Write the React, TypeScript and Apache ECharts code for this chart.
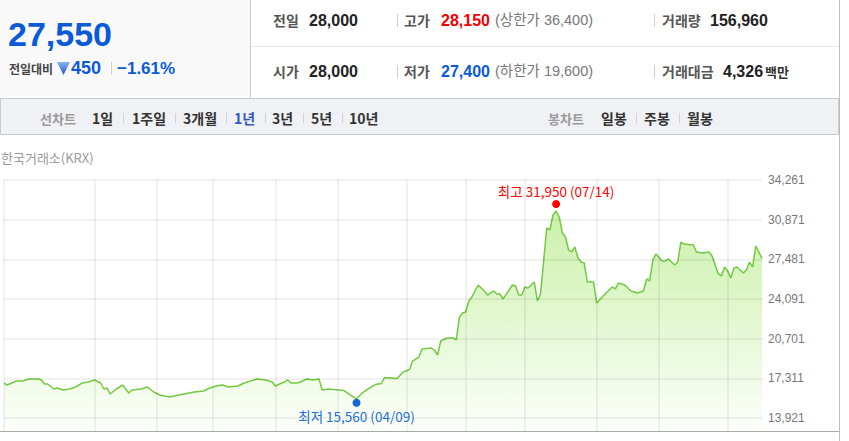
import React, { useEffect, useRef } from 'react';
import * as echarts from 'echarts';

// ---- quote header values ----
const currentPrice = 27550;
const changeAbs = 450;
const changePct = '−1.61%';
const prevClose = 28000;
const openPrice = 28000;
const highPrice = 28150;
const lowPrice = 27400;
const upperLimit = 36400;
const lowerLimit = 19600;
const volume = 156960;
const turnover = 4326;

const rangeTabs = ['1일', '1주일', '3개월', '1년', '3년', '5년', '10년'];
const candleTabs = ['일봉', '주봉', '월봉'];

// ---- chart data (trading-day index, closing price) ----
const dayIndex = [
  0, 1, 4, 6, 8, 11, 12, 13, 14, 16, 17, 19, 21, 23, 25, 27, 29, 31, 32, 33, 34, 36, 38, 39, 40, 41, 44, 46, 48, 50,
  53, 56, 61, 64, 66, 68, 70, 72, 75, 77, 81, 84, 86, 87, 89, 90, 91, 92, 94, 95, 97, 99, 101, 102, 104, 109, 111,
  113, 115, 117, 119, 121, 122, 126, 128, 130, 131, 133, 134, 137, 138, 139, 140, 142, 144, 145, 146, 147, 148, 149,
  150, 152, 154, 155, 157, 158, 159, 160, 163, 164, 165, 166, 167, 168, 170, 171, 172, 174, 175, 176, 177, 178, 179,
  180, 181, 182, 183, 184, 185, 186, 187, 188, 189, 190, 193, 195, 196, 197, 199, 201, 203, 205, 206, 207, 208, 209,
  211, 212, 213, 215, 216, 217, 218, 221, 222, 224, 226, 227, 229, 230, 231, 232, 233, 234, 235, 237, 238, 239, 240,
  241, 242, 243,
];
const closePrice = [
  16910, 16740, 17080, 17080, 17250, 17250, 17170, 16830, 16830, 16400, 16490, 16310, 16400, 16570, 16910, 17000,
  17170, 16910, 16400, 16490, 15970, 16400, 16740, 16400, 16060, 16310, 16400, 16570, 16140, 15890, 15720, 15890,
  16140, 16230, 16490, 16660, 16740, 16570, 16660, 16910, 17250, 17170, 17000, 16660, 16910, 17000, 17170, 16910,
  16910, 17000, 17250, 17170, 17250, 16310, 16400, 16270, 15890, 15560, 16100, 16450, 16780, 16870, 17380, 17300,
  17850, 18070, 18790, 19130, 19820, 19900, 19730, 19300, 20500, 20760, 20760, 20590, 22550, 22900, 22980, 23920,
  24260, 25290, 24780, 24430, 24780, 24520, 24520, 24090, 25290, 25200, 24430, 24430, 25120, 25030, 25540, 23920,
  24520, 30160, 29990, 31270, 31610, 31100, 29730, 29390, 28280, 28110, 28540, 27600, 27250, 27170, 25540, 25540,
  25540, 23750, 24600, 25120, 24950, 25460, 25290, 24780, 24600, 24780, 25800, 25630, 27420, 27940, 27340, 27340,
  27510, 27000, 27250, 28960, 28790, 28710, 28110, 28020, 28110, 27770, 26230, 26060, 26830, 26480, 25890, 26740,
  26830, 26310, 26570, 27250, 26830, 28620, 28110, 27550,
];
const monthStartIndex = [0, 29, 49, 67, 87, 107, 129, 148, 167, 190, 210, 232];
const yTickValues = [13921, 17311, 20701, 24091, 27481, 30871, 34261];
const yMin = 12810;
const yMax = 34261;
const xMax = 243;

const highMark = { index: 177, value: 31950, date: '07/14' };
const lowMark = { index: 113, value: 15560, date: '04/09' };

const fmt = (v: number) => v.toLocaleString('en-US');

const NUM = '"Liberation Sans", Arial, "Noto Sans CJK KR", sans-serif';
const KR = '"Noto Sans CJK KR", "Liberation Sans", sans-serif';

function txt(text: string, x: number, y: number, size: number, color: string, weight = 'normal', family = NUM) {
  return {
    type: 'text',
    x,
    y,
    silent: true,
    style: {
      text,
      fill: color,
      fontSize: size,
      fontWeight: weight,
      fontFamily: family,
      align: 'left',
      verticalAlign: 'middle',
      textAlign: 'left',
      textVerticalAlign: 'middle',
    },
  };
}
function ln(x1: number, y1: number, x2: number, y2: number, color: string, w = 1) {
  return { type: 'line', silent: true, shape: { x1, y1, x2, y2 }, style: { stroke: color, lineWidth: w } };
}

export default function App() {
  const ref = useRef<HTMLDivElement>(null);
  useEffect(() => {
    if (!ref.current) return;
    const chart = echarts.init(ref.current, undefined, { renderer: 'svg' });
    const data = dayIndex.map((d, i) => [d, closePrice[i]]);

    const tabX = [92, 132, 183, 234, 272, 311, 349];
    const tabSepX = [123, 175, 226, 265, 303, 342];
    const candleX = [601, 644, 687];
    const candleSepX = [636, 679];

    const graphics: any[] = [
      // header
      { type: 'rect', silent: true, shape: { x: 0, y: 0, width: 250, height: 96 }, style: { fill: '#f9f9fa' } },
      ln(250.5, 0, 250.5, 98, '#c9c9c9'),
      ln(251, 46.5, 839, 46.5, '#e6e6e6'),
      txt(fmt(currentPrice), 8, 34, 34, '#0b5ad6', 'bold'),
      txt('전일대비', 9, 68, 12, '#444', 'bold', KR),
      {
        type: 'polygon',
        silent: true,
        shape: { points: [[57, 62], [70, 62], [63.5, 75]] },
        style: {
          fill: new echarts.graphic.LinearGradient(0, 0, 0, 1, [
            { offset: 0, color: '#8bb2ee' },
            { offset: 1, color: '#1b55c8' },
          ]),
        },
      },
      txt(String(changeAbs), 71, 68, 18, '#0b5ad6', 'bold'),
      ln(111.5, 62, 111.5, 75, '#cfcfcf'),
      txt(changePct, 117, 68, 17, '#0b5ad6', 'bold'),

      txt('전일', 273, 20, 14, '#555', 'bold', KR),
      txt(fmt(prevClose), 309, 20, 16, '#222', 'bold'),
      ln(397.5, 14, 397.5, 27, '#cfcfcf'),
      txt('고가', 404, 20, 14, '#555', 'bold', KR),
      txt(fmt(highPrice), 441, 20, 16, '#f30000', 'bold'),
      txt(`(상한가 ${fmt(upperLimit)})`, 495, 20, 14.5, '#777', 'normal', NUM),
      ln(654.5, 14, 654.5, 27, '#cfcfcf'),
      txt('거래량', 662, 20, 14, '#555', 'bold', KR),
      txt(fmt(volume), 710, 20, 16, '#222', 'bold'),

      txt('시가', 273, 71, 14, '#555', 'bold', KR),
      txt(fmt(openPrice), 309, 71, 16, '#222', 'bold'),
      ln(397.5, 65, 397.5, 78, '#cfcfcf'),
      txt('저가', 404, 71, 14, '#555', 'bold', KR),
      txt(fmt(lowPrice), 441, 71, 16, '#0b5ad6', 'bold'),
      txt(`(하한가 ${fmt(lowerLimit)})`, 495, 71, 14.5, '#777', 'normal', NUM),
      ln(654.5, 65, 654.5, 78, '#cfcfcf'),
      txt('거래대금', 662, 71, 14, '#555', 'bold', KR),
      txt(fmt(turnover), 723, 71, 16, '#222', 'bold'),
      txt('백만', 765, 71, 13, '#333', 'bold', KR),

      // tab bar
      {
        type: 'rect',
        silent: true,
        shape: { x: 0.5, y: 98.5, width: 838, height: 36 },
        style: { fill: '#f0f1f5', stroke: '#c6c9cf', lineWidth: 1 },
      },
      txt('선차트', 40, 118, 13, '#9a9a9a', 'bold', KR),
      ...rangeTabs.map((t, i) => txt(t, tabX[i], 118, 14, t === '1년' ? '#3456be' : '#333', 'bold', KR)),
      ...tabSepX.map((x) => ln(x + 0.5, 113, x + 0.5, 123, '#d2d2d2')),
      txt('봉차트', 548, 118, 13, '#9a9a9a', 'bold', KR),
      ...candleTabs.map((t, i) => txt(t, candleX[i], 118, 14, '#333', 'bold', KR)),
      ...candleSepX.map((x) => ln(x + 0.5, 113, x + 0.5, 123, '#d2d2d2')),

      txt('한국거래소(KRX)', 1, 157, 13, '#999', 'normal', KR),

      // frame
      ln(839.5, 0, 839.5, 441, '#bdbdbd'),
      { ...ln(0, 431.5, 839, 431.5, '#a9a9a9', 1), z: 10 },
    ];

    const option: any = {
      animation: false,
      backgroundColor: '#ffffff',
      grid: { left: 4, right: 87, top: 180, bottom: 10, containLabel: false },
      xAxis: { type: 'value', min: 0, max: xMax, show: false },
      yAxis: { type: 'value', min: yMin, max: yMax, show: false },
      graphic: graphics,
      series: [
        {
          type: 'line',
          data,
          symbol: 'none',
          z: 2,
          lineStyle: { color: '#72ca40', width: 1.5 },
          areaStyle: {
            origin: 'start',
            color: new echarts.graphic.LinearGradient(0, 0, 0, 1, [
              { offset: 0, color: '#b4ea85' },
              { offset: 1, color: '#fbfff8' },
            ]),
          },
          markLine: {
            silent: true,
            symbol: 'none',
            animation: false,
            lineStyle: { color: 'rgba(0,0,0,0.055)', width: 2, type: 'solid' },
            label: { show: false },
            emphasis: { disabled: true },
            data: [
              ...monthStartIndex.map((d) => ({ xAxis: d })),
              ...yTickValues.map((v) => ({
                yAxis: v,
                label: {
                  show: true,
                  position: 'end',
                  distance: 6,
                  formatter: fmt(v),
                  color: '#777',
                  fontSize: 12,
                  fontFamily: NUM,
                },
              })),
            ],
          },
          markPoint: {
            silent: true,
            animation: false,
            data: [
              {
                coord: [highMark.index, highMark.value],
                symbol: 'circle',
                symbolSize: 8,
                symbolOffset: [0, -3],
                itemStyle: { color: '#ff0000' },
                label: {
                  show: true,
                  position: 'top',
                  distance: 2,
                  formatter: `최고 ${fmt(highMark.value)} (${highMark.date})`,
                  color: '#ff0000',
                  fontSize: 13.5,
                  fontFamily: KR,
                },
              },
              {
                coord: [lowMark.index, lowMark.value],
                symbol: 'circle',
                symbolSize: 8,
                symbolOffset: [0, 4],
                itemStyle: { color: '#1565d8' },
                label: {
                  show: true,
                  position: 'bottom',
                  distance: 2,
                  formatter: `최저 ${fmt(lowMark.value)} (${lowMark.date})`,
                  color: '#1f6fd6',
                  fontSize: 13.5,
                  fontFamily: KR,
                },
              },
            ],
          },
        },
      ],
    };
    chart.setOption(option);
    return () => chart.dispose();
  }, []);

  return (
    <div style={{ position: 'absolute', left: 0, top: 0, width: 849, height: 441, background: '#fff' }}>
      <div ref={ref} style={{ width: 849, height: 441 }} />
    </div>
  );
}
